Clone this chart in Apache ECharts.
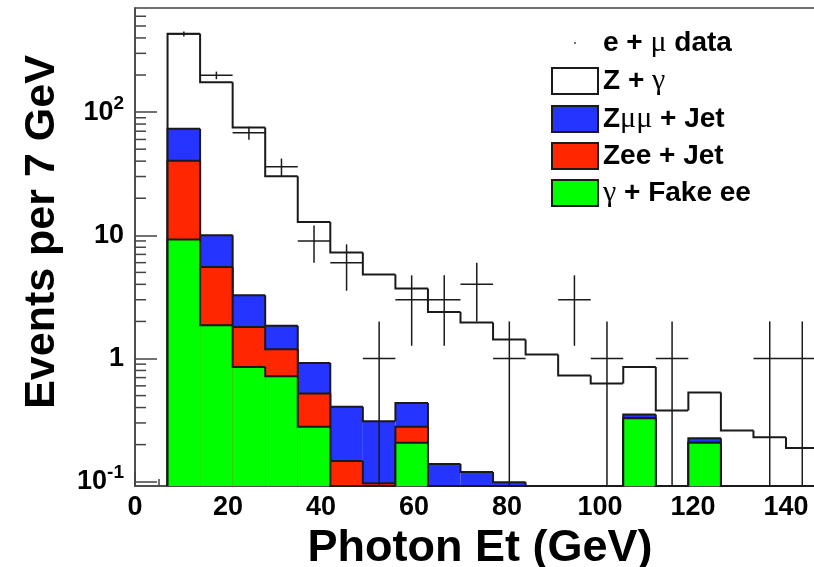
<!DOCTYPE html>
<html>
<head>
<meta charset="utf-8">
<title>Photon Et</title>
<script src="https://cdn.jsdelivr.net/npm/echarts@6/dist/echarts.min.js"></script>
<style>
    html, body { margin: 0; padding: 0; background: #fff; }
    #chart { width: 814px; height: 567px; }
</style>
</head>
<body>
<div id="chart"></div>
<script>
// bins are 7 GeV wide, lower edges below
let binLow = [7, 14, 21, 28, 35, 42, 49, 56, 63, 70, 77, 84, 91, 98, 105, 112, 119, 126, 133, 140]
let binWidth = 7

// stack components (bottom -> top)
let fakeEE = [9.23, 1.86, 0.855, 0.719, 0.279, 0, 0, 0.207, 0, 0, 0, 0, 0, 0, 0.328, 0, 0.207, 0, 0, 0]
let zeeJet = [31.1, 3.67, 0.95, 0.47, 0.24, 0.147, 0.097, 0.072, 0, 0, 0, 0, 0, 0, 0, 0, 0, 0, 0, 0]
let zmmJet = [33.0, 4.47, 1.46, 0.66, 0.40, 0.258, 0.213, 0.157, 0.139, 0.120, 0.099, 0, 0, 0, 0.023, 0, 0.018, 0, 0, 0]
let zGamma = [359, 165, 71.7, 28.3, 11.9, 6.84, 4.49, 3.26, 2.25, 1.84, 1.33, 1.08, 0.728, 0.627, 0.504, 0.379, 0.305, 0.261, 0.230, 0.188]

// e + mu data and its error bars
let dataCounts = [431, 199, 68, 36, 9, 6, 1, 3, 3, 4, 1, 0, 3, 1, 0, 1, 0, 0, 1, 1]
let dataErrors = [20.8, 14.1, 8.2, 6.0, 3.0, 2.45, 1, 1.73, 1.73, 2, 1, 0, 1.73, 1, 0, 1, 0, 0, 1, 1]

// y axis ticks
let yTickValues = [0.1, 1, 10, 100]
let yTickLabels = ['10{sup|-1}', '1', '10', '10{sup|2}']
let yMinorTicks = [0.2, 0.3, 0.4, 0.5, 0.6, 0.7, 0.8, 0.9,
    2, 3, 4, 5, 6, 7, 8, 9,
    20, 30, 40, 50, 60, 70, 80, 90,
    200, 300, 400, 500, 600]

let legendNames = ['e + μ data', 'Z + γ', 'Zμμ + Jet', 'Zee + Jet', 'γ + Fake ee']
let legendLabels = ['e + {g|μ} data', 'Z + {g|γ}', 'Z{g|μμ} + Jet', 'Zee + Jet', '{g|γ} + Fake ee']

let yMin = 0.0923, yMax = 700
let font = 'Liberation Sans'
let axisColor = '#444', lineColor = '#1a1a1a'
let colWhite = '#ffffff', colBlue = '#2535ff', colRed = '#ff2600', colGreen = '#00ff00'

// stacked cumulative heights
let cumGreen = fakeEE.slice()
let cumRed = cumGreen.map(function (v, i) { return v + zeeJet[i] })
let cumBlue = cumRed.map(function (v, i) { return v + zmmJet[i] })
let cumTotal = cumBlue.map(function (v, i) { return v + zGamma[i] })

function layerRows(cum) {
    return cum.map(function (v, i) {
        return [binLow[i], binLow[i] + binWidth, v, i > 0 ? cum[i - 1] : 0, i === cum.length - 1 ? 1 : 0]
    })
}

function histRender(color) {
    return function (params, api) {
        let x0 = api.value(0), x1 = api.value(1)
        let top = Math.max(api.value(2), yMin), prev = Math.max(api.value(3), yMin)
        let a = api.coord([x0, top]), b = api.coord([x1, top])
        let c = api.coord([x0, prev]), base = api.coord([x1, yMin])
        let children = [{
            type: 'rect',
            shape: {x: a[0], y: a[1], width: b[0] - a[0], height: base[1] - a[1]},
            style: {fill: color}
        }, {
            type: 'polyline',
            shape: {points: [c, a, b]},
            style: {stroke: lineColor, lineWidth: 2, fill: 'none'}
        }]
        if (api.value(4) === 1) {
            children.push({
                type: 'line',
                shape: {x1: b[0], y1: b[1], x2: base[0], y2: base[1]},
                style: {stroke: lineColor, lineWidth: 2}
            })
        }
        return {type: 'group', children: children}
    }
}

function dataRender(params, api) {
    let n = api.value(2)
    if (!(n > 0)) return null
    let x0 = api.value(0), x1 = api.value(1), err = api.value(3)
    let xc = (x0 + x1) / 2
    let l = api.coord([x0, n]), r = api.coord([x1, n])
    let hi = api.coord([xc, n + err]), lo = api.coord([xc, Math.max(n - err, yMin)])
    return {
        type: 'group',
        children: [
            {type: 'line', shape: {x1: l[0], y1: l[1], x2: r[0], y2: r[1]}, style: {stroke: lineColor, lineWidth: 1.5}},
            {type: 'line', shape: {x1: hi[0], y1: hi[1], x2: lo[0], y2: lo[1]}, style: {stroke: lineColor, lineWidth: 1.5}}
        ]
    }
}

function minorTickRender(params, api) {
    let p = api.coord([0, api.value(1)])
    return {
        type: 'line',
        shape: {x1: p[0], y1: p[1], x2: p[0] + 11, y2: p[1]},
        style: {stroke: axisColor, lineWidth: 1.5}
    }
}

function histSeries(name, cum, color) {
    return {
        name: name,
        type: 'custom',
        coordinateSystem: 'cartesian2d',
        itemStyle: {color: color, borderColor: lineColor, borderWidth: 2},
        renderItem: histRender(color),
        data: layerRows(cum),
        silent: true
    }
}

let boxStyle = function (color) {
    return {color: color, borderColor: lineColor, borderWidth: 2}
}

let chart = echarts.init(document.getElementById('chart'))
let option = {
    animation: false,
    backgroundColor: '#fff',
    grid: {
        left: 135, right: -65, top: 8, bottom: 81,
        show: true, borderColor: axisColor, borderWidth: 1.5, backgroundColor: '#fff',
        outerBoundsMode: 'none'
    },
    legend: {
        orient: 'vertical',
        left: 551, top: 28,
        padding: 0,
        itemWidth: 46, itemHeight: 26, itemGap: 8,
        selectedMode: false,
        formatter: function (name) {
            return legendLabels[legendNames.indexOf(name)]
        },
        textStyle: {
            fontFamily: font, fontSize: 28, fontWeight: 'bold', color: '#000', lineHeight: 28,
            rich: {
                g: {fontFamily: 'Liberation Serif', fontSize: 30, fontWeight: 'normal', color: '#000', lineHeight: 28}
            }
        },
        data: [
            {name: legendNames[0], icon: 'path://M0,0M46,26M22,12h2v2h-2z', itemStyle: {color: '#777', borderWidth: 0}},
            {name: legendNames[1], icon: 'rect', itemStyle: boxStyle(colWhite)},
            {name: legendNames[2], icon: 'rect', itemStyle: boxStyle(colBlue)},
            {name: legendNames[3], icon: 'rect', itemStyle: boxStyle(colRed)},
            {name: legendNames[4], icon: 'rect', itemStyle: boxStyle(colGreen)}
        ]
    },
    xAxis: {
        type: 'value',
        min: 0, max: 160, interval: 20,
        name: 'Photon Et (GeV)',
        nameLocation: 'middle',
        nameGap: 32,
        nameTextStyle: {fontFamily: font, fontSize: 45, fontWeight: 'bold', color: '#000', padding: [0, 54, 0, 0]},
        axisLine: {lineStyle: {color: axisColor, width: 1.5}},
        axisTick: {inside: true, length: 14, lineStyle: {color: axisColor, width: 1.5}},
        minorTick: {show: true, splitNumber: 4, length: 7, lineStyle: {color: axisColor, width: 1.5}},
        splitLine: {show: false},
        axisLabel: {
            margin: 8, color: '#000', fontFamily: font, fontSize: 27, fontWeight: 'bold',
            showMaxLabel: false
        }
    },
    yAxis: {
        type: 'log',
        logBase: 10,
        min: yMin, max: yMax,
        name: 'Events per 7 GeV',
        nameLocation: 'middle',
        nameRotate: 90,
        nameGap: 71,
        nameTextStyle: {fontFamily: font, fontSize: 43, fontWeight: 'bold', color: '#000', padding: [0, 0, 0, 30]},
        axisLine: {show: true, lineStyle: {color: axisColor, width: 1.5}},
        axisTick: {inside: true, length: 22, lineStyle: {color: axisColor, width: 1.5}},
        minorTick: {show: false},
        splitLine: {show: false},
        axisLabel: {
            margin: 11, color: '#000', fontFamily: font, fontSize: 27, fontWeight: 'bold',
            showMinLabel: false, showMaxLabel: false,
            formatter: function (v) {
                for (let i = 0; i < yTickValues.length; i++) {
                    if (Math.abs(Math.log10(v) - Math.log10(yTickValues[i])) < 0.01) return yTickLabels[i]
                }
                return ''
            },
            rich: {
                sup: {fontFamily: font, fontSize: 19, fontWeight: 'bold', color: '#000', padding: [0, 0, 17, 0]}
            }
        }
    },
    series: [
        histSeries(legendNames[1], cumTotal, colWhite),
        histSeries(legendNames[2], cumBlue, colBlue),
        histSeries(legendNames[3], cumRed, colRed),
        histSeries(legendNames[4], cumGreen, colGreen),
        {
            name: legendNames[0],
            type: 'custom',
            coordinateSystem: 'cartesian2d',
            itemStyle: {color: '#777'},
            renderItem: dataRender,
            data: dataCounts.map(function (n, i) {
                return [binLow[i], binLow[i] + binWidth, n, dataErrors[i]]
            }),
            silent: true
        },
        {
            name: 'minor ticks',
            type: 'custom',
            coordinateSystem: 'cartesian2d',
            renderItem: minorTickRender,
            data: yMinorTicks.map(function (v) { return [0, v] }),
            silent: true
        }
    ]
}
chart.setOption(option)
</script>
</body>
</html>
